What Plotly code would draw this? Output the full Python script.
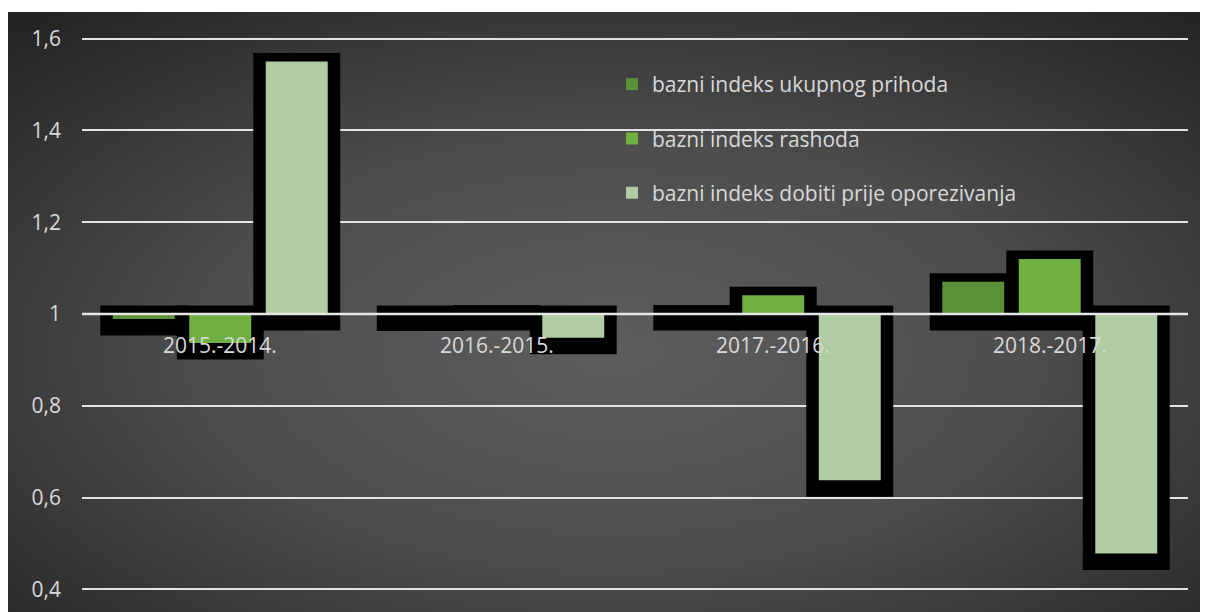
import plotly.graph_objects as go
import base64

categories = ["2015.-2014.", "2016.-2015.", "2017.-2016.", "2018.-2017."]
series_names = ["bazni indeks ukupnog prihoda", "bazni indeks rashoda", "bazni indeks dobiti prije oporezivanja"]
prihod = [0.989, 0.999, 1.001, 1.07]
rashod = [0.937, 1.001, 1.041, 1.12]
dobit = [1.55, 0.948, 0.638, 0.478]
base_value = 1.0
y_ticks = [0.4, 0.6, 0.8, 1.0, 1.2, 1.4, 1.6]

colors = ["#5b8f38", "#70b043", "#afcca2"]
series = [prihod, rashod, dobit]

W, H = 1208, 612
# page has an 8px body margin; margins compensate for it
ml, mr, mt, mb = 74, 28, 26, 26
y_range = [0.39, 1.61]
pw = W - ml - mr
ph = H - mt - mb
px_per_unit = ph / (y_range[1] - y_range[0])
shadow_shift = 4.0 / px_per_unit

fig = go.Figure()

# black "shadow" boxes behind all bars
for i, vals in enumerate(series):
    fig.add_trace(go.Bar(
        x=categories, y=[v - base_value for v in vals], base=[base_value - shadow_shift] * len(vals),
        offsetgroup=str(i), marker=dict(color="black", line=dict(color="black", width=25)),
        showlegend=False, hoverinfo="skip"))

for i, vals in enumerate(series):
    fig.add_trace(go.Bar(
        x=categories, y=[v - base_value for v in vals], base=[base_value] * len(vals),
        offsetgroup=str(i), name=series_names[i], legendgroup=str(i),
        marker=dict(color=colors[i], line=dict(width=0)),
        customdata=vals, hovertemplate="%{x}: %{customdata}<extra></extra>"))

# category labels sitting on the y=1 axis
for c in categories:
    fig.add_annotation(x=c, y=base_value, text=c, showarrow=False, yanchor="top", yshift=-15,
                       font=dict(family="Open Sans", size=21, color="#d9d9d9"))

# axis line at 1 on top
fig.add_shape(type="line", xref="paper", yref="y", x0=0, x1=1, y0=base_value, y1=base_value,
              line=dict(color="#e6e6e6", width=2.5), layer="above")

svg = ("<svg xmlns='http://www.w3.org/2000/svg' width='1200' height='600' viewBox='0 0 1200 600' preserveAspectRatio='none'>"
       "<defs><radialGradient id='g' cx='50%' cy='55%' r='72%' fx='50%' fy='55%'>"
       "<stop offset='0' stop-color='#5d5d5d'/><stop offset='0.45' stop-color='#4e4e4e'/>"
       "<stop offset='1' stop-color='#242424'/></radialGradient></defs>"
       "<rect x='0' y='0' width='1200' height='600' fill='url(#g)'/></svg>")
src = "data:image/svg+xml;base64," + base64.b64encode(svg.encode()).decode()
fig.add_layout_image(source=src, xref="paper", yref="paper",
                     x=(0 - ml) / pw, y=1 + (mt - 4) / ph,
                     sizex=(W + 8) / pw, sizey=(H + 8) / ph,
                     xanchor="left", yanchor="top", sizing="stretch", layer="below")

fig.update_layout(
    width=W, height=H, margin=dict(l=ml, r=mr, t=mt, b=mb),
    paper_bgcolor="white", plot_bgcolor="rgba(0,0,0,0)",
    barmode="group", bargap=0.17, bargroupgap=0.19,
    separators=", ",
    font=dict(family="Open Sans", size=21, color="#d9d9d9"),
    showlegend=True,
    legend=dict(x=(604 - ml) / pw, y=1 - (56 - mt) / ph, xanchor="left", yanchor="top",
                bgcolor="rgba(0,0,0,0)", tracegroupgap=24,
                font=dict(family="Open Sans", size=21, color="#d9d9d9")),
)
fig.update_xaxes(showticklabels=False, showgrid=False, zeroline=False, showline=False, ticks="")
fig.update_yaxes(range=y_range, tickvals=y_ticks, showgrid=True, gridcolor="#e3e3e3", gridwidth=2,
                 zeroline=False, showline=False, ticks="", ticklabelstandoff=20,
                 tickfont=dict(family="Open Sans", size=21, color="#d9d9d9"))

fig.write_html("out.html")
